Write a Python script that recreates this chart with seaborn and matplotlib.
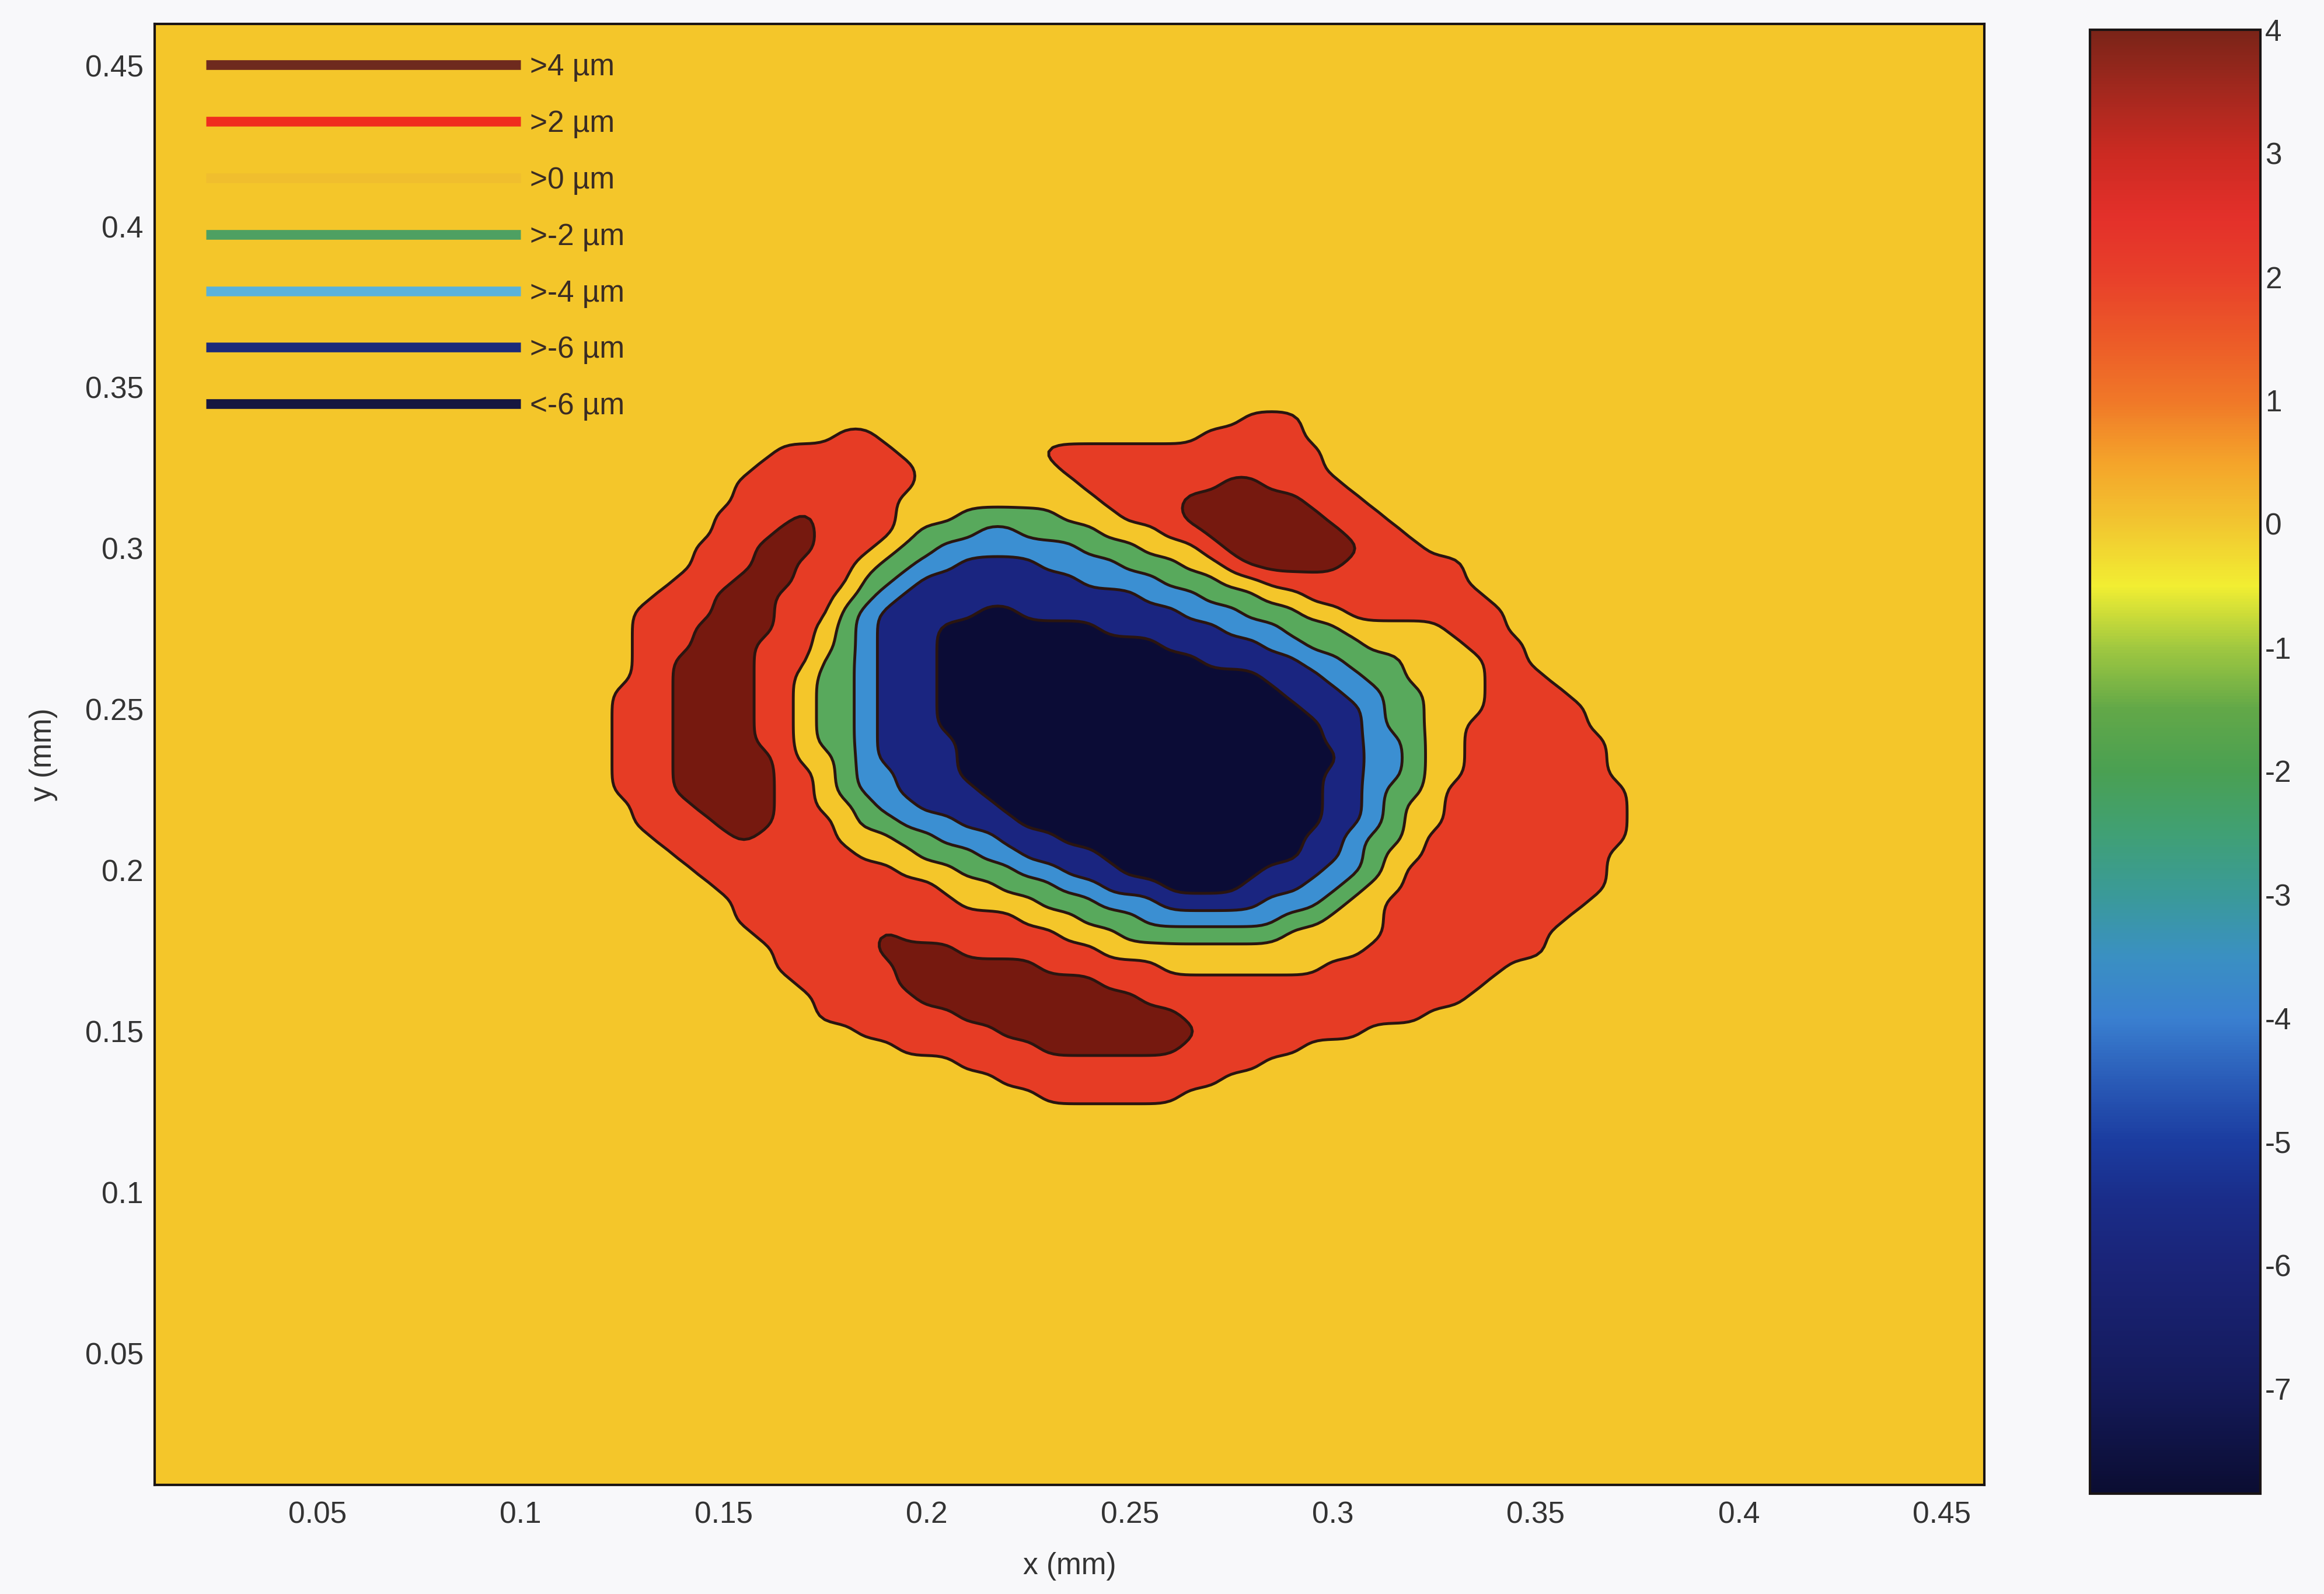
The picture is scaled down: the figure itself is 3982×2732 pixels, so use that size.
import numpy as np
import matplotlib
matplotlib.use("Agg")
import matplotlib.pyplot as plt
from matplotlib.colors import LinearSegmentedColormap, Normalize
from matplotlib.cm import ScalarMappable
from matplotlib.lines import Line2D
import seaborn as sns

# ---------------------------------------------------------------------------
# Surface height map (µm) on a 5 µm grid, stored as runs per row.
# Row 0 is y = 0.350 mm, each next row is 0.005 mm lower.
# Column 0 is x = 0.110 mm, each next column is 0.005 mm further right.
# Cells not listed sit at the background height.
# r: 2..4 µm, d: >4 µm, g: -2..0 µm, c: -4..-2 µm, b: -6..-4 µm, n: < -6 µm
# ---------------------------------------------------------------------------
height_of = {"r": 3.0, "d": 5.0, "g": -1.0, "c": -3.0, "b": -5.0, "n": -7.0}
background_height = 1.0
map_x0 = 0.110
map_y0 = 0.350
grid_step = 0.005

height_rows = [
    "",
    "",
    "r34-36",
    "r14-15 r32-36",
    "r11-16 r24-37",
    "r10-17 r25-37",
    "r9-17 r26-32 d33-34 r35-38",
    "r9-16 r27-30 d31-36 r37-39",
    "r8-11 d12 r13-16 g20-24 r28-30 d31-37 r38-40",
    "r8-10 d11-12 r13-16 g18-20 c21-22 g23-26 r30-31 d32-38 r39-41",
    "r7-9 d10-12 r13-15 g17-18 c19-25 g26-28 r32 d33-39 r40-42",
    "r7-9 d10-11 r12-14 g16-17 c18-19 b20-23 c24-27 g28-30 r33 d34-38 r39-44",
    "r6-8 d9-11 r12-14 g15-16 c17 b18-25 c26-29 g30-32 r35-44",
    "r5-7 d8-10 r11-13 g15 c16 b17-28 c29-31 g32-34 r37-45",
    "r4-7 d8-10 r11-13 g14 c15 b16-20 n21-22 b23-30 c31-33 g34-36 r39-46",
    "r4-6 d7-10 r11-12 g14 c15 b16-18 n19-26 b27-32 c33-35 g36-38 r44-46",
    "r4-6 d7-9 r10-12 g14 c15 b16-18 n19-29 b30-34 c35-36 g37-39 r45-47",
    "r4-5 d6-9 r10-12 g13-14 c15 b16-18 n19-31 b32-36 c37-38 g39-41 r46-47",
    "r4-5 d6-9 r10-11 g13-14 c15 b16-18 n19-34 b35-37 c38-39 g40-41 r46-48",
    "r3-5 d6-9 r10-11 g13-14 c15 b16-18 n19-35 b36-38 c39-40 g41-42 r46-49",
    "r3-5 d6-9 r10-11 g13-14 c15 b16-18 n19-36 b37-39 c40 g41-42 r46-50",
    "r3-5 d6-9 r10-11 g13-14 c15 b16-18 n19-37 b38-39 c40 g41-42 r45-50",
    "r3-5 d6-9 r10-11 g13-14 c15 b16-19 n20-37 b38-39 c40-41 g42 r45-51",
    "r3-5 d6-10 r11 g14 c15 b16-19 n20-38 b39 c40-41 g42 r45-51",
    "r3-5 d6-10 r11-12 g14 c15-16 b17-19 n20-37 b38-39 c40-41 g42 r45-51",
    "r3-5 d6-10 r11-12 g14 c15-16 b17-20 n21-37 b38-39 c40 g41-42 r44-52",
    "r4-6 d7-10 r11-12 g15 c16-17 b18-21 n22-37 b38-39 c40 g41 r44-52",
    "r4-7 d8-10 r11-13 g15-16 c17-19 b20-22 n23-37 b38-39 c40 g41 r44-52",
    "r5-8 d9 r10-13 g17-18 c19-21 b22-24 n25-36 b37-38 c39 g40-41 r43-52",
    "r6-14 g18-20 c21-22 b23-26 n27-36 b37-38 c39 g40 r43-51",
    "r7-16 g20-22 c23-24 b25-27 n28-34 b35-37 c38-39 g40 r42-51",
    "r8-18 g22-24 c25-26 b27-29 n30-33 b34-36 c37-38 g39 r42-51",
    "r9-19 g24-26 c27-29 b30-34 c35-37 g38 r41-50",
    "r9-22 g26-28 c29-35 g36-37 r41-49",
    "r10-15 d16 r17-24 g28-35 r41-48",
    "r11-15 d16-19 r20-26 r40-48",
    "r11-16 d17-23 r24-29 r38-46",
    "r12-16 d17-26 r27-45",
    "r13-17 d18-28 r29-44",
    "r13-19 d20-30 r31-42",
    "r15-21 d22-31 r32-39",
    "r17-23 d24-30 r31-36",
    "r20-34",
    "r22-32",
    "r24-30",
    "",
    "",
]

# Contour bands and their fill colours (low to high)
band_edges = [-100.0, -6.0, -4.0, -2.0, 0.0, 2.0, 4.0, 100.0]
band_colors = ["#0b0c36", "#1a2580", "#3b8fd2", "#58a95c", "#f4c62a", "#e63c25", "#76190f"]
line_levels = [-6.0, -4.0, -2.0, 0.0, 2.0, 4.0]

# Legend entries
legend_labels = [">4 µm", ">2 µm", ">0 µm", ">-2 µm", ">-4 µm", ">-6 µm", "<-6 µm"]
legend_colors = ["#6e2a1e", "#f02c1e", "#f0be2e", "#4ea062", "#5ab2da", "#1c2a7a", "#161640"]

# Colour scale of the colour bar
depth_min, depth_max = -7.85, 4.0
cbar_stops = [-7.85, -7.0, -6.0, -5.5, -5.0, -4.5, -4.0, -3.5, -3.0, -2.5, -2.0,
              -1.5, -1.0, -0.5, 0.0, 0.5, 1.0, 1.5, 2.0, 2.5, 3.0, 3.5, 4.0]
cbar_colors = ["#0b0d32", "#141a5a", "#1a2478", "#1a2c88", "#1b3ca0", "#2a5cb8", "#3a80d0",
               "#3a90c2", "#3a9a98", "#40a074", "#4aa052", "#62a848", "#a0c840", "#f2ee32",
               "#f2c630", "#f4a42a", "#f07828", "#ec5a28", "#e8402a", "#e3302a", "#cc2a22",
               "#a4281e", "#7a2418"]
cbar_ticks = [-7, -6, -5, -4, -3, -2, -1, 0, 1, 2, 3, 4]

x_ticks = [0.05, 0.10, 0.15, 0.20, 0.25, 0.30, 0.35, 0.40, 0.45]
x_ticklabels = ["0.05", "0.1", "0.15", "0.2", "0.25", "0.3", "0.35", "0.4", "0.45"]
y_ticks = [0.05, 0.10, 0.15, 0.20, 0.25, 0.30, 0.35, 0.40, 0.45]
y_ticklabels = ["0.05", "0.1", "0.15", "0.2", "0.25", "0.3", "0.35", "0.4", "0.45"]
x_limits = (0.0099, 0.4605)
y_limits = (0.0091, 0.4629)


def build_height_grid():
    xs = 0.005 + grid_step * np.arange(93)
    ys = 0.005 + grid_step * np.arange(93)
    z = np.full((ys.size, xs.size), background_height)
    col0 = int(round((map_x0 - xs[0]) / grid_step))
    for j, row in enumerate(height_rows):
        r = int(round((map_y0 - j * grid_step - ys[0]) / grid_step))
        for tok in row.split():
            cls = tok[0]
            a, _, b = tok[1:].partition("-")
            a = int(a)
            b = int(b) if b else a
            z[r, col0 + a: col0 + b + 1] = height_of[cls]
    return xs, ys, z


def display_surface(xs, ys, z, factor=4, passes=5):
    """Bilinear resampling plus a light binomial filter, so the contour
    outlines follow the surface rather than the grid cells."""
    xf = np.linspace(xs[0], xs[-1], (xs.size - 1) * factor + 1)
    yf = np.linspace(ys[0], ys[-1], (ys.size - 1) * factor + 1)
    zx = np.array([np.interp(xf, xs, row) for row in z])
    zf = np.array([np.interp(yf, ys, col) for col in zx.T]).T
    k = np.array([1.0, 4.0, 6.0, 4.0, 1.0])
    k /= k.sum()

    def smooth(v):
        return np.convolve(np.pad(v, 2, mode="edge"), k, mode="valid")

    for _ in range(passes):
        zf = np.apply_along_axis(smooth, 0, zf)
        zf = np.apply_along_axis(smooth, 1, zf)
    return xf, yf, zf


sns.set_theme(style="white")
plt.rcParams["font.family"] = ["Liberation Sans", "DejaVu Sans"]

W, H, DPI = 3982, 2732, 100
fig = plt.figure(figsize=(W / DPI, H / DPI), dpi=DPI, facecolor="#f8f8fa")

ax = fig.add_axes([0.0666, 0.0684, 0.7873, 0.9166])
xs, ys, z = build_height_grid()
xf, yf, zf = display_surface(xs, ys, z)
X, Y = np.meshgrid(xf, yf)
ax.contourf(X, Y, zf, levels=band_edges, colors=band_colors)
ax.contour(X, Y, zf, levels=line_levels, colors="#2a1510", linewidths=3.5,
           linestyles="solid", negative_linestyles="solid")

ax.set_xlim(*x_limits)
ax.set_ylim(*y_limits)
ax.set_xticks(x_ticks)
ax.set_xticklabels(x_ticklabels)
ax.set_yticks(y_ticks)
ax.set_yticklabels(y_ticklabels)
ax.tick_params(axis="x", length=0, pad=20, labelsize=37, labelcolor="#333333")
ax.tick_params(axis="y", length=0, pad=14, labelsize=37, labelcolor="#333333")
for sp in ax.spines.values():
    sp.set_visible(True)
    sp.set_color("#1a1414")
    sp.set_linewidth(3.0)

ax.set_xlabel("x (mm)", fontsize=37, color="#333333")
ax.set_ylabel("y (mm)", fontsize=37, color="#333333")
ax.xaxis.set_label_coords(0.5, -0.046)
ax.yaxis.set_label_coords(-0.053, 0.5)

handles = [Line2D([], [], color=c, lw=12, solid_capstyle="butt") for c in legend_colors]
leg = ax.legend(handles, legend_labels, loc="upper left", bbox_to_anchor=(0.023, 0.986),
                frameon=False, handlelength=10.5, handletextpad=0.3, labelspacing=0.93,
                fontsize=37, borderaxespad=0.0, borderpad=0.3)
for t in leg.get_texts():
    t.set_color("#3a2c24")

# Colour bar
positions = [(s - depth_min) / (depth_max - depth_min) for s in cbar_stops]
cmap = LinearSegmentedColormap.from_list("depth", list(zip(positions, cbar_colors)), N=512)
cax = fig.add_axes([0.8993, 0.0630, 0.0733, 0.9183])
sm = ScalarMappable(norm=Normalize(vmin=depth_min, vmax=depth_max), cmap=cmap)
cb = fig.colorbar(sm, cax=cax, ticks=cbar_ticks)
cb.ax.set_yticklabels([str(t) for t in cbar_ticks])
cb.outline.set_edgecolor("#1a1414")
cb.outline.set_linewidth(3.0)
cax.tick_params(axis="y", direction="in", left=True, right=True, length=20, width=2.5,
                color="#1a1414", labelsize=37, labelcolor="#333333", pad=6)

fig.savefig("out.png", dpi=DPI, facecolor=fig.get_facecolor())
